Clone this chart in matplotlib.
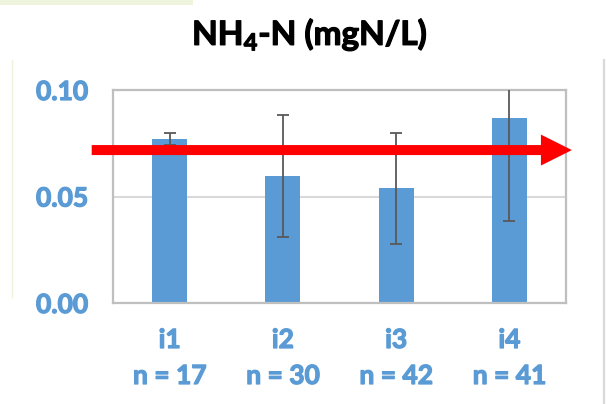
import numpy as np
import matplotlib.pyplot as plt
import matplotlib.patheffects as pe
from matplotlib.patches import Rectangle, ArrowStyle
from matplotlib.lines import Line2D

plt.rcParams['font.family'] = ['Lato', 'DejaVu Sans']
plt.rcParams['mathtext.fontset'] = 'custom'
plt.rcParams['mathtext.rm'] = 'Lato:bold'
plt.rcParams['mathtext.bf'] = 'Lato:bold'

# data
sites = ["i1", "i2", "i3", "i4"]
counts = [17, 30, 42, 41]
means = [0.077, 0.0597, 0.0538, 0.087]
errors = [0.003, 0.0287, 0.026, 0.0485]
threshold = 0.0718
yticks = [0.00, 0.05, 0.10]

blue = "#5B9BD5"

fig = plt.figure(figsize=(6.06, 4.04), dpi=100)
ax = fig.add_axes([113 / 606, 1 - 303 / 404, 453 / 606, 213 / 404])

x = np.arange(len(sites))
ax.bar(x, means, width=0.31, color=blue, zorder=2)
ax.errorbar(x, means, yerr=errors, fmt="none", ecolor="#595959",
            elinewidth=1.3, capsize=4.3, capthick=1.3, zorder=3)

ax.set_xlim(-0.5, 3.5)
ax.set_ylim(0, 0.10)
ax.set_yticks(yticks)
ax.set_yticklabels([f"{v:.2f}" for v in yticks])
ax.set_xticks(x)
ax.set_xticklabels([f"{s}\nn = {n}" for s, n in zip(sites, counts)],
                   linespacing=1.6)
ax.tick_params(axis="y", length=0, pad=18, labelsize=19, labelcolor=blue)
ax.tick_params(axis="x", length=0, pad=18, labelsize=19, labelcolor=blue)
thick = [pe.withStroke(linewidth=0.9, foreground=blue)]
for lab in ax.get_xticklabels() + ax.get_yticklabels():
    lab.set_fontweight("bold")
    lab.set_path_effects(thick)

ax.yaxis.grid(True, color="#D9D9D9", lw=1.5, zorder=0)
ax.set_axisbelow(True)
for sp in ax.spines.values():
    sp.set_color("#BFBFBF")
    sp.set_linewidth(1.6)

# red arrow marking the reference level
ax.annotate("", xy=(1.013, threshold), xytext=(-0.047, threshold),
            xycoords=("axes fraction", "data"),
            textcoords=("axes fraction", "data"),
            arrowprops=dict(arrowstyle=ArrowStyle.Simple(head_length=22.3, head_width=22.3, tail_width=7.2),
                            mutation_scale=1, fc="#FF0000", ec="none",
                            shrinkA=0, shrinkB=0),
            annotation_clip=False, zorder=5)

fig.text(0.5116, 1 - 45 / 404, r"NH$_{\mathbf{4}}$-N (mgN/L)", ha="center",
         va="baseline", fontsize=24, fontweight="bold", color="black",
         path_effects=[pe.withStroke(linewidth=0.9, foreground="black")])

# frame remnants of the slide
fig.patches.append(Rectangle((0, 1 - 5 / 404), 193 / 606, 5 / 404,
                             transform=fig.transFigure, color="#EFF5DC", lw=0))
fig.lines.append(Line2D([12 / 606, 12 / 606], [1 - 297 / 404, 1 - 60 / 404],
                        transform=fig.transFigure, color="#EEF3DA", lw=1))
fig.lines.append(Line2D([604 / 606, 604 / 606], [0, 1 - 60 / 404],
                        transform=fig.transFigure, color="#D9D9D9", lw=1.6))

fig.savefig("out.png", dpi=100)
